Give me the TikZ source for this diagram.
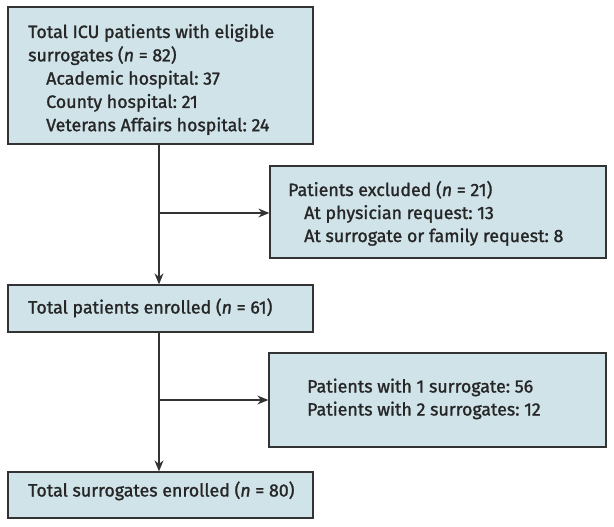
\documentclass[tikz,border=0pt]{standalone}
\usepackage{fontspec}
\setmainfont{Fira Sans}[FakeBold=1.3]
\usetikzlibrary{arrows.meta}
\definecolor{boxfill}{HTML}{CFE3E9}
\definecolor{edge}{HTML}{333333}
\begin{document}
\frenchspacing
\begin{tikzpicture}[x=1pt,y=-1pt,
  box/.style={draw=edge,line width=1.3pt,fill=boxfill,rectangle,inner sep=0pt},
  txt/.style={anchor=base west,inner sep=0pt,font=\fontsize{17.8}{23}\selectfont,text=black!85},
  arr/.style={draw=edge,line width=1.2pt,-{Stealth[length=11pt,width=9pt]}}]
\useasboundingbox (0,0) rectangle (614,527);
% boxes
\node[box,minimum width=305pt,minimum height=137pt] (b1) at (160.5,75.5) {};
\node[box,minimum width=336pt,minimum height=92pt] (b2) at (438,212) {};
\node[box,minimum width=305pt,minimum height=47pt] (b3) at (160.5,308.5) {};
\node[box,minimum width=337pt,minimum height=94pt] (b4) at (437.5,400) {};
\node[box,minimum width=305pt,minimum height=46pt] (b5) at (160.5,495) {};
% texts
\node[txt] (t11) at (28,38) {Total ICU patients with eligible};
\node[txt] (t12) at (28,61.3) {surrogates (\textit{n} = 82)};
\node[txt] (t13) at (46,84.6) {Academic hospital: 37};
\node[txt] (t14) at (46,107.9) {County hospital: 21};
\node[txt] (t15) at (46,131.2) {Veterans Affairs hospital: 24};
\node[txt] (t21) at (288,196) {Patients excluded (\textit{n} = 21)};
\node[txt] (t22) at (304,219) {At physician request: 13};
\node[txt] (t23) at (304,242) {At surrogate or family request: 8};
\node[txt] (t31) at (28,313.5) {Total patients enrolled (\textit{n} = 61)};
\node[txt] (t41) at (307,392.5) {Patients with 1 surrogate: 56};
\node[txt] (t42) at (307,415.5) {Patients with 2 surrogates: 12};
\node[txt] (t51) at (28,496.5) {Total surrogates enrolled (\textit{n} = 80)};
% connectors
\coordinate (j1) at (159,213);
\coordinate (j2) at (159,400);
\draw[arr] (b1.south -| j1) -- (b3.north -| j1);
\draw[arr] (j1) -- (j1 -| b2.west);
\draw[arr] (b3.south -| j2) -- (b5.north -| j2);
\draw[arr] (j2) -- (j2 -| b4.west);
\end{tikzpicture}
\end{document}
